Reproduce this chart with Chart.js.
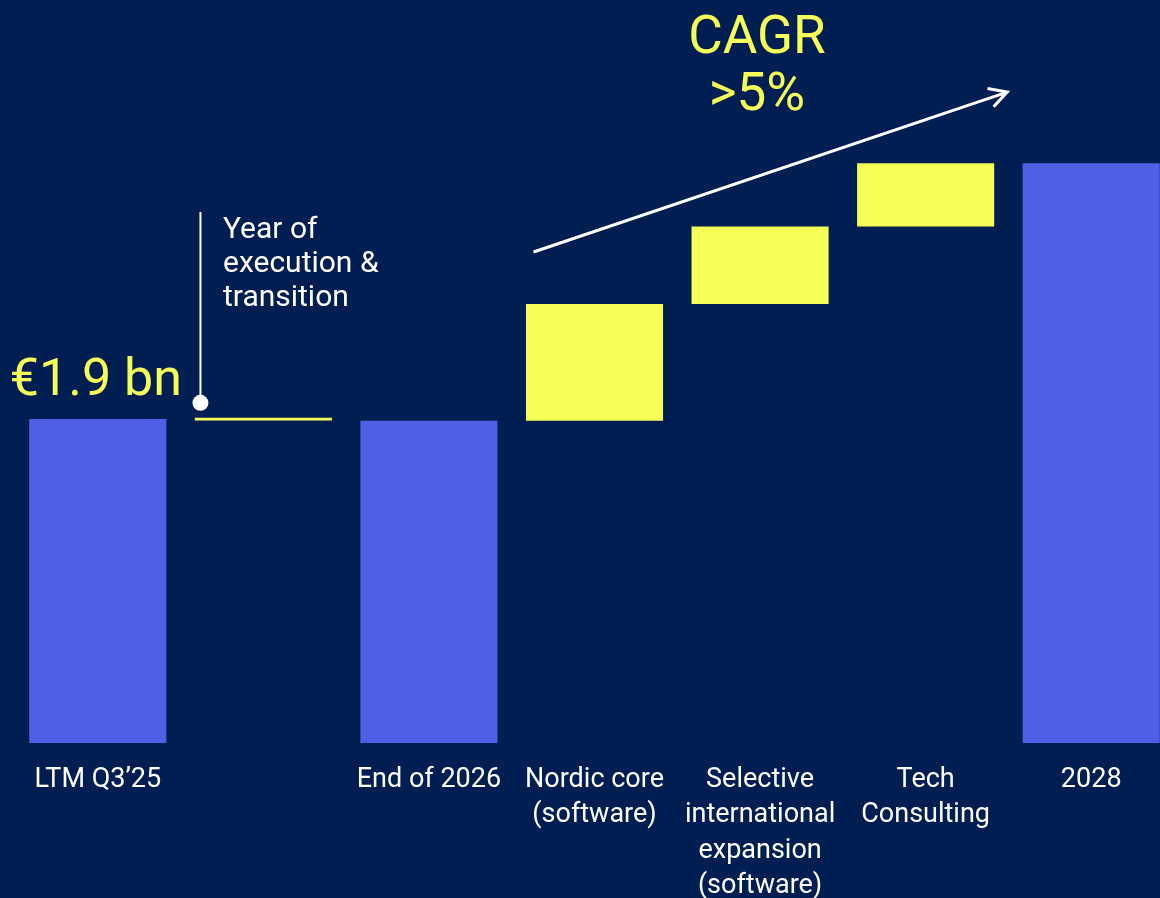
<!DOCTYPE html>
<html lang="en">
<head>
  <meta charset="UTF-8">
  <title>Revenue bridge to 2028</title>
  <style>
    html, body { margin: 0; padding: 0; background: #011E53; overflow: hidden; }
    #wrap { position: absolute; left: 0; top: 0; width: 1174px; height: 898px; }
  </style>
</head>
<body>
  <div id="wrap">
    <canvas id="bridge" width="1174" height="898"></canvas>
  </div>

  <script src="https://cdn.jsdelivr.net/npm/chart.js"></script>
  <script>
    // categories (multi-line labels as arrays)
    const categories = [
      'LTM Q3\u201925',
      '',
      'End of 2026',
      ['Nordic core', '(software)'],
      ['Selective', 'international', 'expansion', '(software)'],
      ['Tech', 'Consulting'],
      '2028'
    ];
    // totals (EUR bn) drawn from zero
    const totals = [[0, 1.9], null, [0, 1.89], null, null, null, [0, 3.40]];
    // bridge steps (EUR bn), floating
    const steps = [null, [1.891, 1.908], null, [1.89, 2.575], [2.575, 3.03], [3.03, 3.40], null];
    const headline = '\u20AC1.9 bn';
    const cagrText = ['CAGR', '>5%'];
    const noteText = ['Year of', 'execution &', 'transition'];

    const BLUE = '#4F60E6';
    const YELLOW = '#F5FF57';

    const notes = {
      id: 'notes',
      afterDraw(chart) {
        const { ctx } = chart;
        const x = chart.scales.x, y = chart.scales.y;
        const slot = x.getPixelForValue(1) - x.getPixelForValue(0);
        ctx.save();

        // headline value
        ctx.fillStyle = YELLOW;
        ctx.font = '52px Roboto';
        ctx.textAlign = 'right';
        ctx.textBaseline = 'alphabetic';
        ctx.fillText(headline, 182, y.getPixelForValue(totals[0][1]) - 24);

        // marker line + dot
        const mx = x.getPixelForValue(1) - slot * 0.38;
        const dotY = y.getPixelForValue(1.995);
        ctx.strokeStyle = '#ffffff';
        ctx.lineWidth = 2;
        ctx.beginPath();
        ctx.moveTo(mx, 212);
        ctx.lineTo(mx, dotY);
        ctx.stroke();
        ctx.fillStyle = '#ffffff';
        ctx.beginPath();
        ctx.arc(mx, dotY, 8, 0, Math.PI * 2);
        ctx.fill();

        ctx.font = '30px Roboto';
        ctx.textAlign = 'left';
        noteText.forEach((t, i) => ctx.fillText(t, 223, 238 + i * 34));

        // growth arrow
        const x0 = x.getPixelForValue(3) - 61, y0 = y.getPixelForValue(2.88);
        const x1 = x.getPixelForValue(6) - 84, y1 = y.getPixelForValue(3.818);
        ctx.lineWidth = 3;
        ctx.beginPath();
        ctx.moveTo(x0, y0);
        ctx.lineTo(x1, y1);
        const ang = Math.atan2(y1 - y0, x1 - x0);
        const hl = 20;
        ctx.moveTo(x1 + hl * Math.cos(ang + Math.PI - 0.5), y1 + hl * Math.sin(ang + Math.PI - 0.5));
        ctx.lineTo(x1, y1);
        ctx.lineTo(x1 + hl * Math.cos(ang + Math.PI + 0.5), y1 + hl * Math.sin(ang + Math.PI + 0.5));
        ctx.stroke();

        // CAGR label
        ctx.fillStyle = YELLOW;
        ctx.font = '53px Roboto';
        ctx.textAlign = 'center';
        ctx.fillText(cagrText[0], 757, 53);
        ctx.fillText(cagrText[1], 757, 110);

        ctx.restore();
      }
    };

    new Chart(document.getElementById('bridge'), {
      type: 'bar',
      data: {
        labels: categories,
        datasets: [
          { label: 'Total', data: totals, backgroundColor: BLUE, grouped: false,
            barPercentage: 1, categoryPercentage: 0.828 },
          { label: 'Step', data: steps, backgroundColor: YELLOW, grouped: false,
            barPercentage: 1, categoryPercentage: 0.828 }
        ]
      },
      options: {
        responsive: false,
        animation: false,
        layout: { padding: { left: 15, right: 0, top: 0, bottom: 0 } },
        plugins: { legend: { display: false }, tooltip: { enabled: false } },
        scales: {
          x: {
            grid: { display: false, drawTicks: false },
            border: { display: false },
            ticks: {
              color: '#ffffff',
              font: { family: 'Roboto', size: 27, lineHeight: 1.3 },
              padding: 20,
              maxRotation: 0,
              autoSkip: false
            },
            afterFit(scale) { scale.height = 155; }
          },
          y: {
            display: false,
            min: 0,
            max: 4.358
          }
        }
      },
      plugins: [notes]
    });
  </script>
</body>
</html>
